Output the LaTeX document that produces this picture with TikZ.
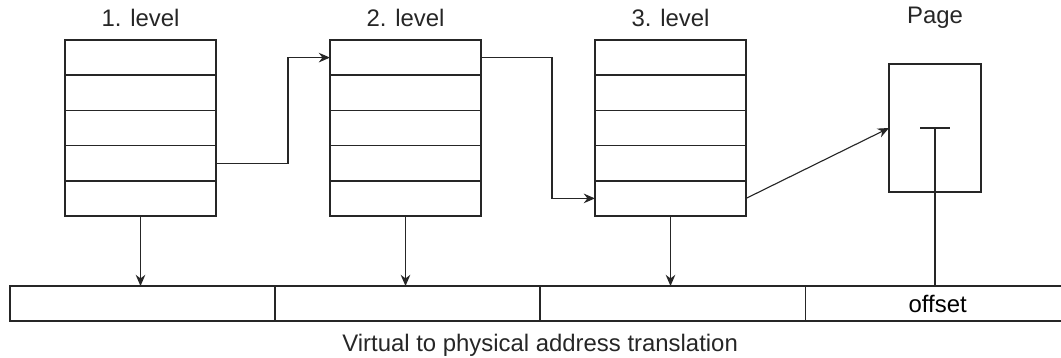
\documentclass[tikz,border=0pt]{standalone}
\usepackage{fontspec}
\setmainfont{Liberation Sans}
\usetikzlibrary{positioning, calc, arrows.meta}

\begin{document}
\begin{tikzpicture}[
    x=0.025cm, y=-0.025cm,
    >={Stealth[length=0.28cm, width=0.24cm]},
    cell/.style={
        draw=black!85, rectangle, line width=1pt,
        minimum width=3.775cm, minimum height=0.88cm,
        inner sep=0pt, outer sep=0pt
    },
    field/.style={
        draw=black!85, rectangle, line width=0.9pt,
        minimum width=6.625cm, minimum height=0.875cm,
        inner sep=0pt, outer sep=0pt, font=\fontsize{17}{20}\selectfont
    },
    pagebox/.style={draw=black!85, rectangle, line width=0.9pt,
                    minimum width=2.3cm, minimum height=3.2cm,
                    inner sep=0pt, outer sep=0pt},
    lbl/.style={font=\fontsize{17}{20}\selectfont, text=black!85},
    arrow/.style={->, line width=0.8pt, draw=black!85},
    link/.style={line width=0.8pt, draw=black!85},
]
\useasboundingbox (0,0) rectangle (1061,357);

% page tables, five entries each
\foreach \t/\cx in {1/140.5, 2/405.5, 3/670.5} {
    \foreach \r in {1,...,5} {
        \node[cell] (t\t r\r) at (\cx, {40+35.2*(\r-0.5)}) {};
    }
    \node[lbl] (lab\t) at (\cx, 18) {\t. level};
}

\node[pagebox] (page) at (935, 128) {};
\node[lbl] (labpage) at (935, 18) {Page};

% virtual address
\node[field] (f1) at (142.5, 303.5) {};
\node[field, right=0pt of f1] (f2) {};
\node[field, right=0pt of f2] (f3) {};
\node[field, right=0pt of f3] (f4) {offset};
\node[lbl, below=0.2cm of f2.south east] (caption) {Virtual to physical address translation};

\draw[arrow] (t1r4.east) -- ++(72,0) |- (t2r1.west);
\draw[arrow] (t2r1.east) -- ++(71,0) |- (t3r5.west);
\draw[arrow] (t3r5.east) -- (page.west);

\draw[arrow] (t1r5.south) -- (t1r5.south |- f1.north);
\draw[arrow] (t2r5.south) -- (t2r5.south |- f2.north);
\draw[arrow] (t3r5.south) -- (t3r5.south |- f3.north);

\coordinate (tl) at ([xshift=-0.375cm]page.center);
\coordinate (tr) at ([xshift=0.375cm]page.center);
\draw[link] (tl) -- (tr);
\draw[link] (page.center) -- (page.center |- f4.north);

\end{tikzpicture}
\end{document}
